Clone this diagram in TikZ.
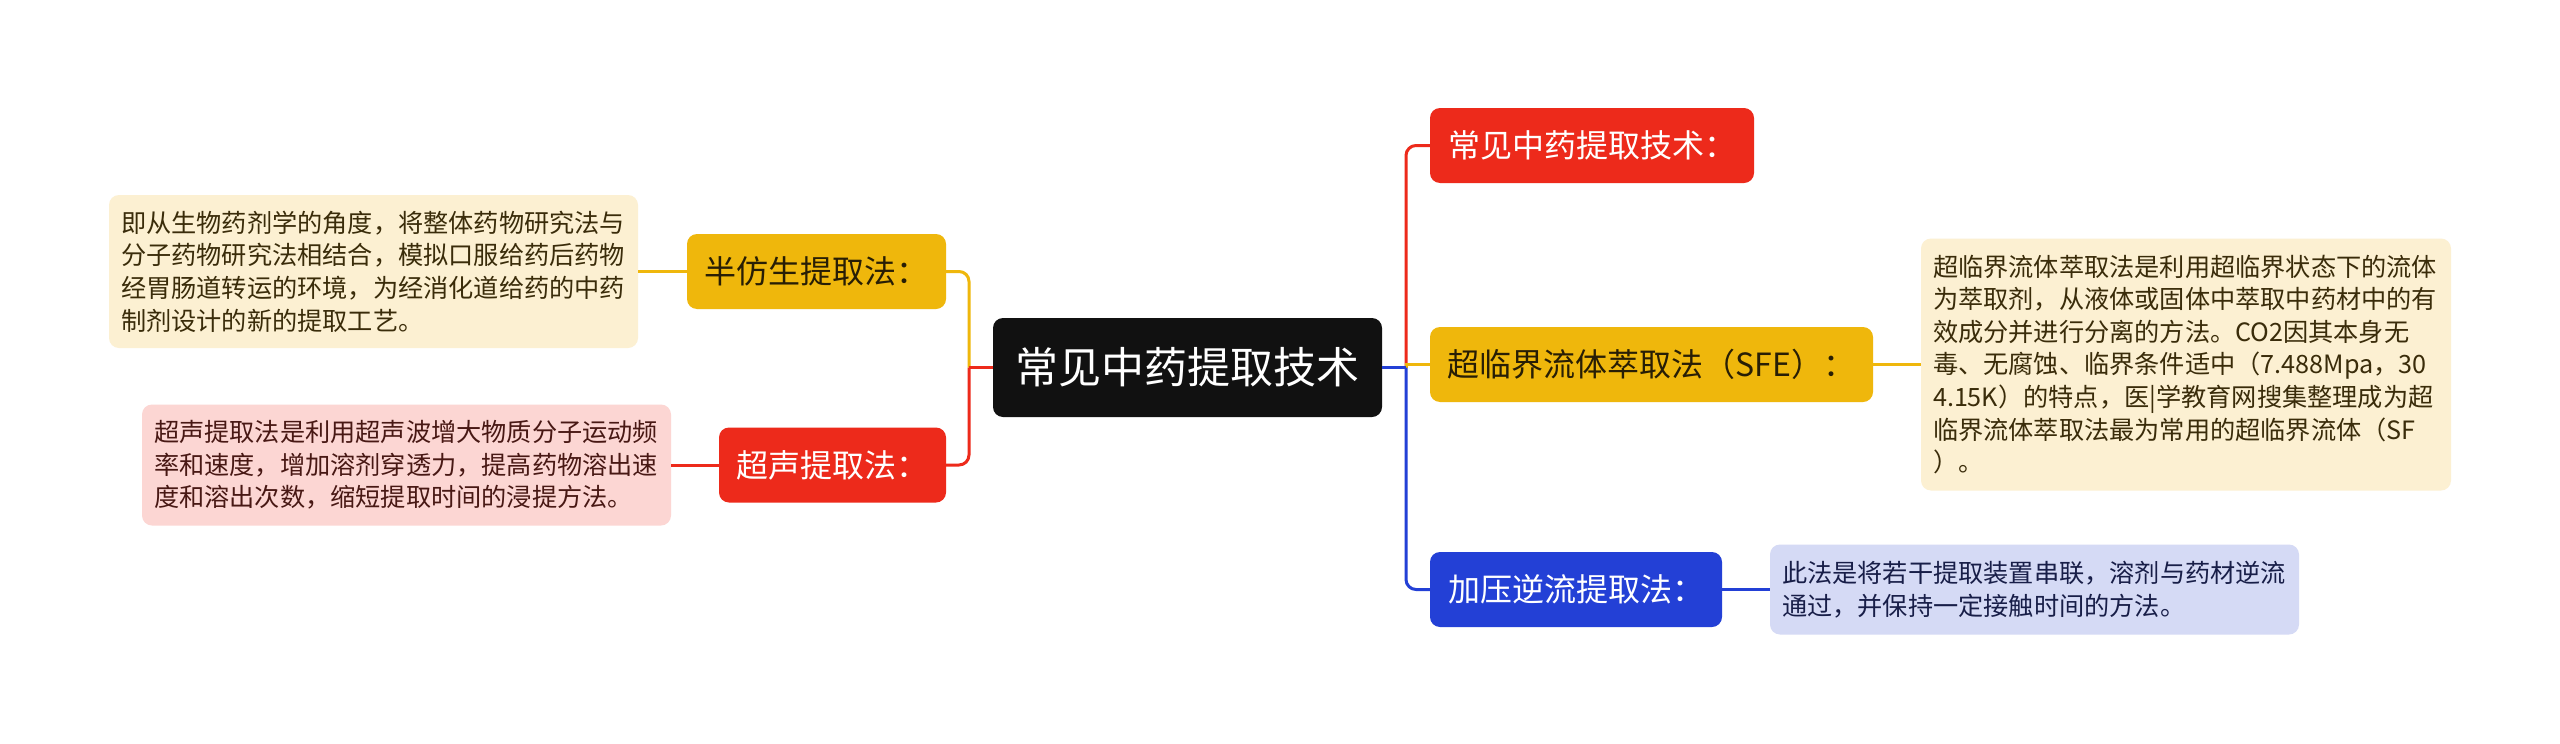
\documentclass[tikz,border=0pt]{standalone}
\usepackage{fontspec}
\setmainfont{Noto Sans CJK SC}
\definecolor{cred}{RGB}{237,42,27}
\definecolor{cyel}{RGB}{239,183,12}
\definecolor{cblue}{RGB}{35,64,214}
\definecolor{ccen}{RGB}{17,17,17}
\definecolor{dyel}{RGB}{252,240,210}
\definecolor{dred}{RGB}{252,214,211}
\definecolor{dblue}{RGB}{213,218,245}
\definecolor{tyel}{RGB}{58,44,10}
\definecolor{tred}{RGB}{72,24,20}
\definecolor{tblue}{RGB}{24,30,72}
\definecolor{tbox}{RGB}{40,30,5}
\tikzset{
  box/.style={rounded corners=10pt, inner sep=0pt, align=center, minimum height=75pt,
    font={\fontsize{32}{38}\selectfont}},
  centre/.style={rounded corners=10pt, inner sep=0pt, align=center, fill=ccen, text=white,
    minimum width=389pt, minimum height=99pt, font={\fontsize{43}{50}\selectfont}},
  desc/.style={rounded corners=10pt, inner xsep=12pt, inner ysep=0pt, align=left,
    text width=505pt, font={\fontsize{25.2}{32.6}\selectfont}},
  link/.style={line width=3pt},
}
\begin{document}
\begin{tikzpicture}[x=1pt,y=-1pt]
\useasboundingbox[fill=white] (0,0) rectangle (2560,744);
% central
\node[centre] (c) at (1187.5,367.5) {常见中药提取技术};
% left branches
\node[box, fill=cyel, text=tbox, minimum width=259pt] (hf) at (816.5,271.5) {半仿生提取法：};
\node[box, fill=cred, text=white, minimum width=227pt] (cs) at (832.5,465) {超声提取法：};
% right branches
\node[box, fill=cred, text=white, minimum width=324pt] (cj) at (1592,145.5) {常见中药提取技术：};
\node[box, fill=cyel, text=tbox, minimum width=443pt] (sfe) at (1651.5,364.5) {超临界流体萃取法（SFE）：};
\node[box, fill=cblue, text=white, minimum width=292pt] (jy) at (1576,589.5) {加压逆流提取法：};
% descriptions
\node[desc, fill=dyel, text=tyel, minimum height=153pt] (d1) at (373.5,271.5)
  {即从生物药剂学的角度，将整体药物研究法与\\分子药物研究法相结合，模拟口服给药后药物\\经胃肠道转运的环境，为经消化道给药的中药\\制剂设计的新的提取工艺。};
\node[desc, fill=dred, text=tred, minimum height=121pt] (d2) at (406.5,465)
  {超声提取法是利用超声波增大物质分子运动频\\率和速度，增加溶剂穿透力，提高药物溶出速\\度和溶出次数，缩短提取时间的浸提方法。};
\node[desc, fill=dyel, text=tyel, minimum height=252pt, text width=506pt] (d3) at (2186,364.5)
  {超临界流体萃取法是利用超临界状态下的流体\\为萃取剂，从液体或固体中萃取中药材中的有\\效成分并进行分离的方法。CO2因其本身无\\毒、无腐蚀、临界条件适中（7.488Mpa，30\\4.15K）的特点，医|学教育网搜集整理成为超\\临界流体萃取法最为常用的超临界流体（SF\\）。};
\node[desc, fill=dblue, text=tblue, minimum height=90pt] (d4) at (2034.5,589.5)
  {此法是将若干提取装置串联，溶剂与药材逆流\\通过，并保持一定接触时间的方法。};
% junctions
\coordinate (lj) at (969,367.5);
\coordinate (rj) at (1406,367.5);
% left connectors
\draw[link, cyel, rounded corners=10pt] (lj) |- (hf.east);
\draw[link, cred, rounded corners=10pt] (lj) |- (cs.east);
\draw[link, cred] (c.west) -- (lj);
% right connectors
\draw[link, cred, rounded corners=10pt] (rj) |- (cj.west);
\draw[link, cyel] (rj) |- (sfe.west);
\draw[link, cblue, rounded corners=10pt] (rj) |- (jy.west);
\draw[link, cblue] (c.east) -- (rj);
% description connectors
\draw[link, cyel] (hf.west) -- (d1.east);
\draw[link, cred] (cs.west) -- (d2.east);
\draw[link, cyel] (sfe.east) -- (d3.west);
\draw[link, cblue] (jy.east) -- (d4.west);
\end{tikzpicture}
\end{document}
